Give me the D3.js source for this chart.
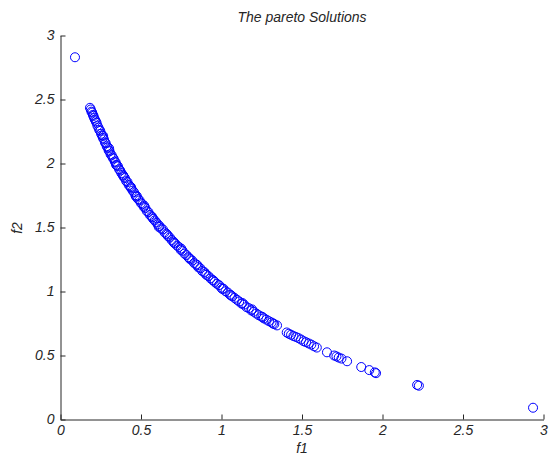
<!DOCTYPE html>
<html>
<head>
<meta charset="utf-8">
<script src="https://cdn.jsdelivr.net/npm/d3@7"></script>
<style>
  body { margin: 0; background: #fff; }
  svg { display: block; font-family: "Liberation Sans", Arial, sans-serif; font-style: italic; }
</style>
</head>
<body>
<svg id="chart" width="549" height="455"></svg>
<script>
// pareto front (f1, f2)
const f1 = [
  0.090, 0.183, 0.188, 0.192, 0.197, 0.201, 0.205, 0.209, 0.214, 0.219, 0.224, 0.229, 0.236, 0.241, 0.247,
  0.252, 0.258, 0.263, 0.270, 0.276, 0.281, 0.287, 0.293, 0.299, 0.305, 0.311, 0.318, 0.324, 0.330, 0.337,
  0.343, 0.350, 0.357, 0.364, 0.371, 0.378, 0.386, 0.393, 0.400, 0.408, 0.416, 0.424, 0.432, 0.440, 0.448,
  0.457, 0.465, 0.474, 0.482, 0.491, 0.500, 0.509, 0.518, 0.527, 0.536, 0.546, 0.555, 0.565, 0.575, 0.585,
  0.595, 0.605, 0.615, 0.625, 0.636, 0.646, 0.657, 0.668, 0.679, 0.690, 0.701, 0.712, 0.724, 0.735, 0.747,
  0.758, 0.770, 0.782, 0.794, 0.806, 0.818, 0.830, 0.843, 0.855, 0.868, 0.880, 0.893, 0.906, 0.919, 0.932,
  0.945, 0.958, 0.971, 0.985, 0.998, 1.012, 1.025, 1.039, 1.053, 1.067, 1.081, 1.096, 1.110, 1.125, 1.140,
  1.155, 1.170, 1.185, 1.200, 1.216, 1.231, 1.247, 1.263, 1.279, 1.295, 1.311, 1.328, 1.345, 1.405, 1.418,
  1.432, 1.447, 1.462, 1.478, 1.494, 1.510, 1.525, 1.542, 1.558, 1.575, 1.592, 1.655, 1.700, 1.714, 1.728,
  1.745, 1.780, 1.868, 1.918, 1.952, 1.960, 2.215, 2.226, 2.935,
  0.265, 0.302, 0.345, 0.390, 0.438, 0.470, 0.520, 0.570, 0.610, 0.663, 0.705, 0.750, 0.800, 0.850, 0.900,
  0.950, 1.005, 1.060, 1.130, 1.190, 1.255, 1.320
];
const f2 = [
  2.830, 2.435, 2.422, 2.405, 2.398, 2.380, 2.372, 2.355, 2.342, 2.330, 2.318, 2.296, 2.280, 2.262, 2.255,
  2.232, 2.220, 2.200, 2.188, 2.165, 2.158, 2.135, 2.125, 2.102, 2.095, 2.072, 2.064, 2.045, 2.038, 2.015,
  2.008, 1.985, 1.978, 1.955, 1.945, 1.925, 1.912, 1.895, 1.886, 1.862, 1.855, 1.832, 1.822, 1.805, 1.788,
  1.775, 1.752, 1.745, 1.722, 1.712, 1.690, 1.682, 1.660, 1.652, 1.628, 1.620, 1.598, 1.588, 1.568, 1.555,
  1.540, 1.524, 1.512, 1.492, 1.485, 1.462, 1.452, 1.432, 1.422, 1.402, 1.390, 1.375, 1.358, 1.348, 1.325,
  1.318, 1.296, 1.285, 1.268, 1.252, 1.242, 1.222, 1.212, 1.190, 1.182, 1.160, 1.152, 1.130, 1.120, 1.102,
  1.090, 1.075, 1.060, 1.050, 1.030, 1.022, 1.002, 0.992, 0.975, 0.962, 0.950, 0.935, 0.922, 0.905, 0.898,
  0.878, 0.870, 0.852, 0.842, 0.828, 0.815, 0.805, 0.790, 0.780, 0.768, 0.758, 0.745, 0.735, 0.680, 0.670,
  0.662, 0.652, 0.645, 0.636, 0.625, 0.612, 0.604, 0.594, 0.585, 0.572, 0.562, 0.525, 0.500, 0.493, 0.484,
  0.476, 0.455, 0.410, 0.386, 0.368, 0.362, 0.270, 0.264, 0.092,
  2.215, 2.118, 1.990, 1.905, 1.815, 1.740, 1.670, 1.580, 1.505, 1.445, 1.380, 1.335, 1.260, 1.205, 1.140,
  1.085, 1.020, 0.970, 0.910, 0.860, 0.800, 0.750
];
const ticks = [0, 0.5, 1, 1.5, 2, 2.5, 3];
const tickLabels = ['0', '0.5', '1', '1.5', '2', '2.5', '3'];

const svg = d3.select('#chart');
const ink = '#262626';

const x = d3.scaleLinear().domain([0, 3]).range([60.5, 543.5]);
const y = d3.scaleLinear().domain([0, 3]).range([419.5, 35.5]);

const points = f1.map((v, i) => ({ f1: v, f2: f2[i] }));

svg.append('g')
  .selectAll('circle')
  .data(points)
  .enter().append('circle')
  .attr('cx', d => x(d.f1))
  .attr('cy', d => y(d.f2))
  .attr('r', 4.5)
  .attr('fill', 'none')
  .attr('stroke', '#0000ff')
  .attr('stroke-width', 1);

const xAxis = svg.append('g')
  .attr('transform', `translate(0,${y(0)})`)
  .call(d3.axisBottom(x).tickValues(ticks).tickFormat((d, i) => tickLabels[i])
    .tickSizeInner(-5).tickSizeOuter(0).tickPadding(6));

const yAxis = svg.append('g')
  .attr('transform', `translate(${x(0)},0)`)
  .call(d3.axisLeft(y).tickValues(ticks).tickFormat((d, i) => tickLabels[i])
    .tickSizeInner(-5).tickSizeOuter(0).tickPadding(6));

[xAxis, yAxis].forEach(a => {
  a.attr('font-family', null).attr('font-size', 14);
  a.select('.domain').attr('stroke', ink);
  a.selectAll('.tick line').attr('stroke', ink);
  a.selectAll('.tick text').attr('fill', ink);
});

svg.append('text')
  .attr('x', 302).attr('y', 22)
  .attr('text-anchor', 'middle')
  .attr('font-size', 14)
  .attr('fill', ink)
  .text('The pareto Solutions');

svg.append('text')
  .attr('x', 302).attr('y', 453)
  .attr('text-anchor', 'middle')
  .attr('font-size', 14)
  .attr('fill', ink)
  .text('f1');

svg.append('text')
  .attr('transform', 'translate(22,228) rotate(-90)')
  .attr('text-anchor', 'middle')
  .attr('font-size', 14)
  .attr('fill', ink)
  .text('f2');
</script>
</body>
</html>
